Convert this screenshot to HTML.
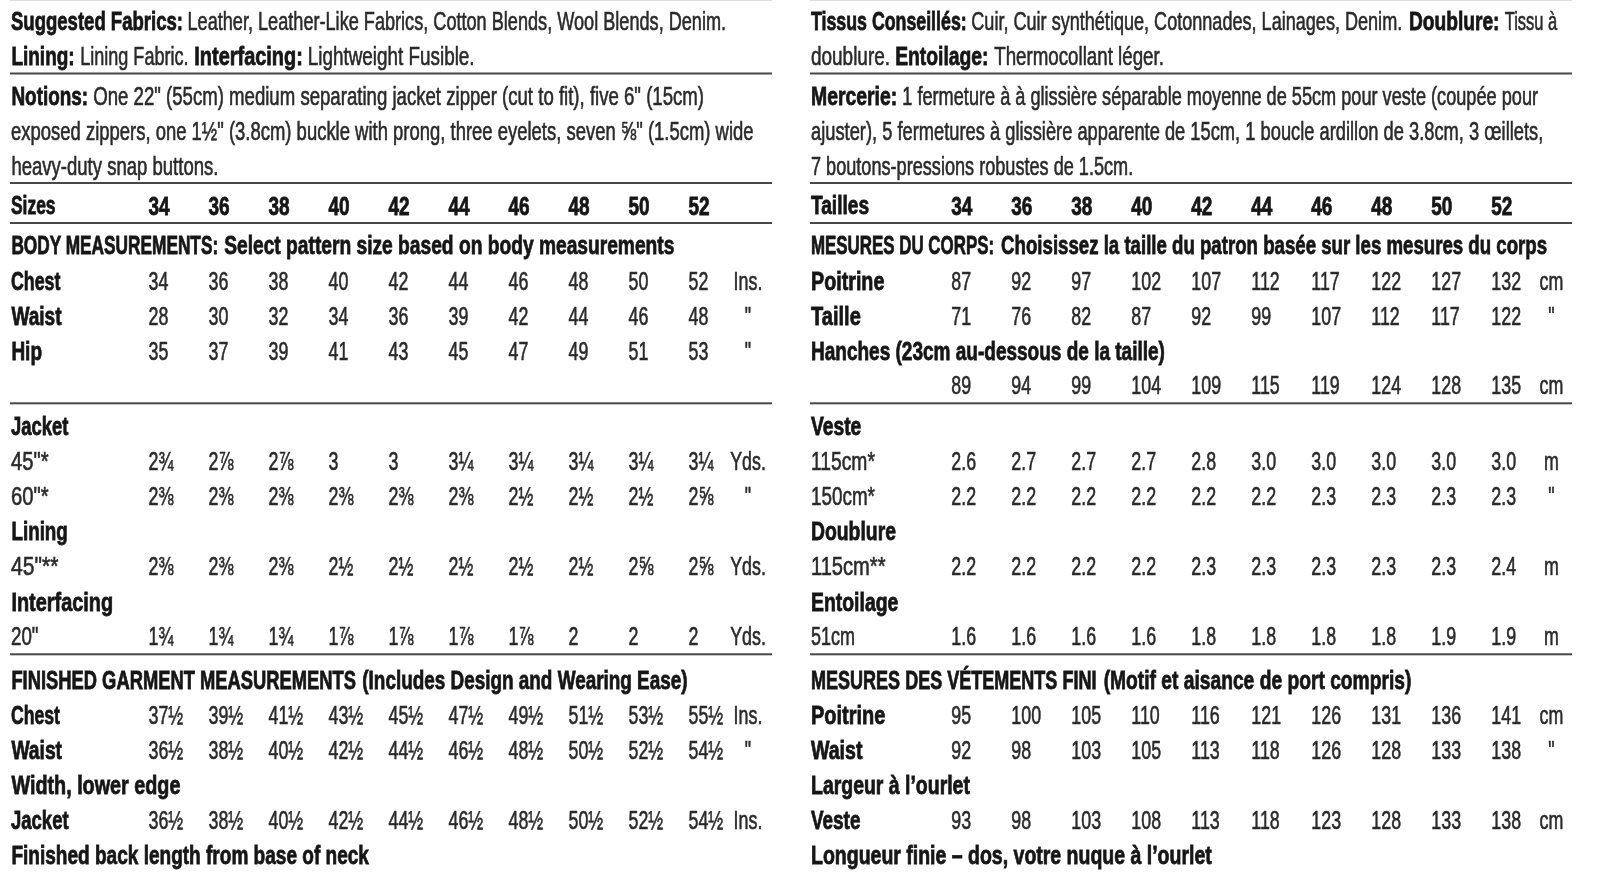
<!DOCTYPE html>
<html><head><meta charset="utf-8"><title>Pattern envelope measurements</title>
<style>
html,body{margin:0;padding:0;background:#fff;width:1606px;height:877px;overflow:hidden}
svg{display:block}
svg{filter:blur(0.35px)}
text{font-family:"Liberation Sans",sans-serif;font-size:25.5px;fill:#2a2a2a;stroke:#2a2a2a;stroke-width:0.6px;white-space:pre}
text.b{font-weight:700;stroke-width:0.8px;fill:#161616;stroke:#161616}
</style></head><body>
<svg width="1606" height="877" viewBox="0 0 1606 877">
<rect width="1606" height="877" fill="#fff"/>
<rect x="10" y="72.50" width="762" height="2" fill="#474747"/>
<rect x="810" y="72.50" width="762" height="2" fill="#474747"/>
<rect x="10" y="182.00" width="762" height="2" fill="#474747"/>
<rect x="810" y="182.00" width="762" height="2" fill="#474747"/>
<rect x="10" y="222.00" width="762" height="2" fill="#474747"/>
<rect x="810" y="222.00" width="762" height="2" fill="#474747"/>
<rect x="10" y="402.30" width="762" height="2" fill="#474747"/>
<rect x="810" y="402.30" width="762" height="2" fill="#474747"/>
<rect x="10" y="653.30" width="762" height="2" fill="#474747"/>
<rect x="810" y="653.30" width="762" height="2" fill="#474747"/>
<rect x="10" y="0" width="762" height="1" fill="#dcdcdc"/>
<rect x="810" y="0" width="762" height="1" fill="#dcdcdc"/>
<text class="b" transform="translate(11.00 30.00) scale(0.7270 1)">Suggested Fabrics:</text>
<text class="r" transform="translate(187.50 30.00) scale(0.7113 1)">Leather, Leather-Like Fabrics, Cotton Blends, Wool Blends, Denim.</text>
<text class="b" transform="translate(11.40 65.00) scale(0.7447 1)">Lining:</text>
<text class="r" transform="translate(80.20 65.00) scale(0.7080 1)">Lining Fabric.</text>
<text class="b" transform="translate(194.30 65.00) scale(0.7824 1)">Interfacing:</text>
<text class="r" transform="translate(307.80 65.00) scale(0.7405 1)">Lightweight Fusible.</text>
<text class="b" transform="translate(11.40 104.50) scale(0.7427 1)">Notions:</text>
<text class="r" transform="translate(93.20 104.50) scale(0.7299 1)">One 22" (55cm) medium separating jacket zipper (cut to fit), five 6" (15cm)</text>
<text class="r" transform="translate(11.00 139.50) scale(0.7243 1)">exposed zippers, one 1½" (3.8cm) buckle with prong, three eyelets, seven ⅝" (1.5cm) wide</text>
<text class="r" transform="translate(11.40 174.50) scale(0.7269 1)">heavy-duty snap buttons.</text>
<text class="b" transform="translate(11.00 214.00) scale(0.6840 1)">Sizes</text>
<text class="b" transform="translate(11.40 254.00) scale(0.6770 1)">BODY MEASUREMENTS:</text>
<text class="b" transform="translate(224.20 254.00) scale(0.7532 1)">Select pattern size based on body measurements</text>
<text class="b" transform="translate(11.00 289.50) scale(0.6963 1)">Chest</text>
<text class="b" transform="translate(11.40 324.50) scale(0.7481 1)">Waist</text>
<text class="b" transform="translate(11.40 359.50) scale(0.7445 1)">Hip</text>
<text class="b" transform="translate(11.00 434.80) scale(0.7229 1)">Jacket</text>
<text class="r" transform="translate(11.00 470.00) scale(0.7928 1)">45"*</text>
<text class="r" transform="translate(11.00 504.70) scale(0.7928 1)">60"*</text>
<text class="b" transform="translate(11.40 539.80) scale(0.7386 1)">Lining</text>
<text class="r" transform="translate(11.00 575.00) scale(0.8272 1)">45"**</text>
<text class="b" transform="translate(11.40 610.50) scale(0.7807 1)">Interfacing</text>
<text class="r" transform="translate(11.00 645.00) scale(0.7353 1)">20"</text>
<text class="b" transform="translate(11.40 689.00) scale(0.7199 1)">FINISHED GARMENT MEASUREMENTS</text>
<text class="b" transform="translate(362.30 689.00) scale(0.7416 1)">(Includes Design and Wearing Ease)</text>
<text class="b" transform="translate(11.00 724.00) scale(0.6921 1)">Chest</text>
<text class="b" transform="translate(11.40 759.00) scale(0.7556 1)">Waist</text>
<text class="b" transform="translate(11.40 794.00) scale(0.7760 1)">Width, lower edge</text>
<text class="b" transform="translate(11.00 829.00) scale(0.7254 1)">Jacket</text>
<text class="b" transform="translate(11.40 864.00) scale(0.7466 1)">Finished back length from base of neck</text>
<text class="b" transform="translate(811.00 30.00) scale(0.6970 1)">Tissus Conseillés:</text>
<text class="r" transform="translate(971.30 30.00) scale(0.7089 1)">Cuir, Cuir synthétique, Cotonnades, Lainages, Denim.</text>
<text class="b" transform="translate(1408.90 30.00) scale(0.7525 1)">Doublure:</text>
<text class="r" transform="translate(1504.70 30.00) scale(0.6470 1)">Tissu à</text>
<text class="r" transform="translate(811.00 64.50) scale(0.7432 1)">doublure.</text>
<text class="b" transform="translate(895.20 64.50) scale(0.7575 1)">Entoilage:</text>
<text class="r" transform="translate(994.20 64.50) scale(0.7351 1)">Thermocollant léger.</text>
<text class="b" transform="translate(811.00 104.50) scale(0.7601 1)">Mercerie:</text>
<text class="r" transform="translate(902.30 104.50) scale(0.7123 1)">1 fermeture à à glissière séparable moyenne de 55cm pour veste (coupée pour</text>
<text class="r" transform="translate(811.00 139.50) scale(0.7178 1)">ajuster), 5 fermetures à glissière apparente de 15cm, 1 boucle ardillon de 3.8cm, 3 œillets,</text>
<text class="r" transform="translate(811.00 174.50) scale(0.7108 1)">7 boutons-pressions robustes de 1.5cm.</text>
<text class="b" transform="translate(811.00 214.00) scale(0.7497 1)">Tailles</text>
<text class="b" transform="translate(811.00 254.00) scale(0.6630 1)">MESURES DU CORPS:</text>
<text class="b" transform="translate(1001.10 254.00) scale(0.7313 1)">Choisissez la taille du patron basée sur les mesures du corps</text>
<text class="b" transform="translate(811.00 289.50) scale(0.7734 1)">Poitrine</text>
<text class="b" transform="translate(811.00 324.50) scale(0.7867 1)">Taille</text>
<text class="b" transform="translate(811.00 359.50) scale(0.7458 1)">Hanches (23cm au-dessous de la taille)</text>
<text class="b" transform="translate(811.00 434.80) scale(0.7553 1)">Veste</text>
<text class="r" transform="translate(811.00 470.00) scale(0.7565 1)">115cm*</text>
<text class="r" transform="translate(811.00 504.70) scale(0.7399 1)">150cm*</text>
<text class="b" transform="translate(811.00 539.80) scale(0.7596 1)">Doublure</text>
<text class="r" transform="translate(811.00 575.00) scale(0.7884 1)">115cm**</text>
<text class="b" transform="translate(811.00 610.50) scale(0.7613 1)">Entoilage</text>
<text class="r" transform="translate(811.00 645.00) scale(0.7051 1)">51cm</text>
<text class="b" transform="translate(811.00 689.00) scale(0.7070 1)">MESURES DES VÉTEMENTS FINI</text>
<text class="b" transform="translate(1103.70 689.00) scale(0.7540 1)">(Motif et aisance de port compris)</text>
<text class="b" transform="translate(811.00 724.00) scale(0.7829 1)">Poitrine</text>
<text class="b" transform="translate(811.00 759.00) scale(0.7675 1)">Waist</text>
<text class="b" transform="translate(811.00 794.00) scale(0.7633 1)">Largeur à l’ourlet</text>
<text class="b" transform="translate(811.00 829.00) scale(0.7417 1)">Veste</text>
<text class="b" transform="translate(811.00 864.00) scale(0.7650 1)">Longueur finie – dos, votre nuque à l’ourlet</text>
<text class="b" transform="translate(148.50 214.70) scale(0.7450 1)">34</text>
<text class="b" transform="translate(208.50 214.70) scale(0.7450 1)">36</text>
<text class="b" transform="translate(268.50 214.70) scale(0.7450 1)">38</text>
<text class="b" transform="translate(328.50 214.70) scale(0.7450 1)">40</text>
<text class="b" transform="translate(388.50 214.70) scale(0.7450 1)">42</text>
<text class="b" transform="translate(448.50 214.70) scale(0.7450 1)">44</text>
<text class="b" transform="translate(508.50 214.70) scale(0.7450 1)">46</text>
<text class="b" transform="translate(568.50 214.70) scale(0.7450 1)">48</text>
<text class="b" transform="translate(628.50 214.70) scale(0.7450 1)">50</text>
<text class="b" transform="translate(688.50 214.70) scale(0.7450 1)">52</text>
<text class="r" transform="translate(148.50 289.50) scale(0.7000 1)">34</text>
<text class="r" transform="translate(208.50 289.50) scale(0.7000 1)">36</text>
<text class="r" transform="translate(268.50 289.50) scale(0.7000 1)">38</text>
<text class="r" transform="translate(328.50 289.50) scale(0.7000 1)">40</text>
<text class="r" transform="translate(388.50 289.50) scale(0.7000 1)">42</text>
<text class="r" transform="translate(448.50 289.50) scale(0.7000 1)">44</text>
<text class="r" transform="translate(508.50 289.50) scale(0.7000 1)">46</text>
<text class="r" transform="translate(568.50 289.50) scale(0.7000 1)">48</text>
<text class="r" transform="translate(628.50 289.50) scale(0.7000 1)">50</text>
<text class="r" transform="translate(688.50 289.50) scale(0.7000 1)">52</text>
<text class="r" transform="translate(733.62 289.50) scale(0.7000 1)">Ins.</text>
<text class="r" transform="translate(148.50 324.50) scale(0.7000 1)">28</text>
<text class="r" transform="translate(208.50 324.50) scale(0.7000 1)">30</text>
<text class="r" transform="translate(268.50 324.50) scale(0.7000 1)">32</text>
<text class="r" transform="translate(328.50 324.50) scale(0.7000 1)">34</text>
<text class="r" transform="translate(388.50 324.50) scale(0.7000 1)">36</text>
<text class="r" transform="translate(448.50 324.50) scale(0.7000 1)">39</text>
<text class="r" transform="translate(508.50 324.50) scale(0.7000 1)">42</text>
<text class="r" transform="translate(568.50 324.50) scale(0.7000 1)">44</text>
<text class="r" transform="translate(628.50 324.50) scale(0.7000 1)">46</text>
<text class="r" transform="translate(688.50 324.50) scale(0.7000 1)">48</text>
<text class="r" transform="translate(744.82 324.50) scale(0.7000 1)">"</text>
<text class="r" transform="translate(148.50 359.50) scale(0.7000 1)">35</text>
<text class="r" transform="translate(208.50 359.50) scale(0.7000 1)">37</text>
<text class="r" transform="translate(268.50 359.50) scale(0.7000 1)">39</text>
<text class="r" transform="translate(328.50 359.50) scale(0.7000 1)">41</text>
<text class="r" transform="translate(388.50 359.50) scale(0.7000 1)">43</text>
<text class="r" transform="translate(448.50 359.50) scale(0.7000 1)">45</text>
<text class="r" transform="translate(508.50 359.50) scale(0.7000 1)">47</text>
<text class="r" transform="translate(568.50 359.50) scale(0.7000 1)">49</text>
<text class="r" transform="translate(628.50 359.50) scale(0.7000 1)">51</text>
<text class="r" transform="translate(688.50 359.50) scale(0.7000 1)">53</text>
<text class="r" transform="translate(744.82 359.50) scale(0.7000 1)">"</text>
<text class="r" transform="translate(148.50 470.00) scale(0.7000 1)">2¾</text>
<text class="r" transform="translate(208.50 470.00) scale(0.7000 1)">2⅞</text>
<text class="r" transform="translate(268.50 470.00) scale(0.7000 1)">2⅞</text>
<text class="r" transform="translate(328.50 470.00) scale(0.7000 1)">3</text>
<text class="r" transform="translate(388.50 470.00) scale(0.7000 1)">3</text>
<text class="r" transform="translate(448.50 470.00) scale(0.7000 1)">3¼</text>
<text class="r" transform="translate(508.50 470.00) scale(0.7000 1)">3¼</text>
<text class="r" transform="translate(568.50 470.00) scale(0.7000 1)">3¼</text>
<text class="r" transform="translate(628.50 470.00) scale(0.7000 1)">3¼</text>
<text class="r" transform="translate(688.50 470.00) scale(0.7000 1)">3¼</text>
<text class="r" transform="translate(730.15 470.00) scale(0.7000 1)">Yds.</text>
<text class="r" transform="translate(148.50 504.70) scale(0.7000 1)">2⅜</text>
<text class="r" transform="translate(208.50 504.70) scale(0.7000 1)">2⅜</text>
<text class="r" transform="translate(268.50 504.70) scale(0.7000 1)">2⅜</text>
<text class="r" transform="translate(328.50 504.70) scale(0.7000 1)">2⅜</text>
<text class="r" transform="translate(388.50 504.70) scale(0.7000 1)">2⅜</text>
<text class="r" transform="translate(448.50 504.70) scale(0.7000 1)">2⅜</text>
<text class="r" transform="translate(508.50 504.70) scale(0.7000 1)">2½</text>
<text class="r" transform="translate(568.50 504.70) scale(0.7000 1)">2½</text>
<text class="r" transform="translate(628.50 504.70) scale(0.7000 1)">2½</text>
<text class="r" transform="translate(688.50 504.70) scale(0.7000 1)">2⅝</text>
<text class="r" transform="translate(744.82 504.70) scale(0.7000 1)">"</text>
<text class="r" transform="translate(148.50 575.00) scale(0.7000 1)">2⅜</text>
<text class="r" transform="translate(208.50 575.00) scale(0.7000 1)">2⅜</text>
<text class="r" transform="translate(268.50 575.00) scale(0.7000 1)">2⅜</text>
<text class="r" transform="translate(328.50 575.00) scale(0.7000 1)">2½</text>
<text class="r" transform="translate(388.50 575.00) scale(0.7000 1)">2½</text>
<text class="r" transform="translate(448.50 575.00) scale(0.7000 1)">2½</text>
<text class="r" transform="translate(508.50 575.00) scale(0.7000 1)">2½</text>
<text class="r" transform="translate(568.50 575.00) scale(0.7000 1)">2½</text>
<text class="r" transform="translate(628.50 575.00) scale(0.7000 1)">2⅝</text>
<text class="r" transform="translate(688.50 575.00) scale(0.7000 1)">2⅝</text>
<text class="r" transform="translate(730.15 575.00) scale(0.7000 1)">Yds.</text>
<text class="r" transform="translate(148.50 645.00) scale(0.7000 1)">1¾</text>
<text class="r" transform="translate(208.50 645.00) scale(0.7000 1)">1¾</text>
<text class="r" transform="translate(268.50 645.00) scale(0.7000 1)">1¾</text>
<text class="r" transform="translate(328.50 645.00) scale(0.7000 1)">1⅞</text>
<text class="r" transform="translate(388.50 645.00) scale(0.7000 1)">1⅞</text>
<text class="r" transform="translate(448.50 645.00) scale(0.7000 1)">1⅞</text>
<text class="r" transform="translate(508.50 645.00) scale(0.7000 1)">1⅞</text>
<text class="r" transform="translate(568.50 645.00) scale(0.7000 1)">2</text>
<text class="r" transform="translate(628.50 645.00) scale(0.7000 1)">2</text>
<text class="r" transform="translate(688.50 645.00) scale(0.7000 1)">2</text>
<text class="r" transform="translate(730.15 645.00) scale(0.7000 1)">Yds.</text>
<text class="r" transform="translate(148.50 724.00) scale(0.7000 1)">37½</text>
<text class="r" transform="translate(208.50 724.00) scale(0.7000 1)">39½</text>
<text class="r" transform="translate(268.50 724.00) scale(0.7000 1)">41½</text>
<text class="r" transform="translate(328.50 724.00) scale(0.7000 1)">43½</text>
<text class="r" transform="translate(388.50 724.00) scale(0.7000 1)">45½</text>
<text class="r" transform="translate(448.50 724.00) scale(0.7000 1)">47½</text>
<text class="r" transform="translate(508.50 724.00) scale(0.7000 1)">49½</text>
<text class="r" transform="translate(568.50 724.00) scale(0.7000 1)">51½</text>
<text class="r" transform="translate(628.50 724.00) scale(0.7000 1)">53½</text>
<text class="r" transform="translate(688.50 724.00) scale(0.7000 1)">55½</text>
<text class="r" transform="translate(733.62 724.00) scale(0.7000 1)">Ins.</text>
<text class="r" transform="translate(148.50 759.00) scale(0.7000 1)">36½</text>
<text class="r" transform="translate(208.50 759.00) scale(0.7000 1)">38½</text>
<text class="r" transform="translate(268.50 759.00) scale(0.7000 1)">40½</text>
<text class="r" transform="translate(328.50 759.00) scale(0.7000 1)">42½</text>
<text class="r" transform="translate(388.50 759.00) scale(0.7000 1)">44½</text>
<text class="r" transform="translate(448.50 759.00) scale(0.7000 1)">46½</text>
<text class="r" transform="translate(508.50 759.00) scale(0.7000 1)">48½</text>
<text class="r" transform="translate(568.50 759.00) scale(0.7000 1)">50½</text>
<text class="r" transform="translate(628.50 759.00) scale(0.7000 1)">52½</text>
<text class="r" transform="translate(688.50 759.00) scale(0.7000 1)">54½</text>
<text class="r" transform="translate(744.82 759.00) scale(0.7000 1)">"</text>
<text class="r" transform="translate(148.50 829.00) scale(0.7000 1)">36½</text>
<text class="r" transform="translate(208.50 829.00) scale(0.7000 1)">38½</text>
<text class="r" transform="translate(268.50 829.00) scale(0.7000 1)">40½</text>
<text class="r" transform="translate(328.50 829.00) scale(0.7000 1)">42½</text>
<text class="r" transform="translate(388.50 829.00) scale(0.7000 1)">44½</text>
<text class="r" transform="translate(448.50 829.00) scale(0.7000 1)">46½</text>
<text class="r" transform="translate(508.50 829.00) scale(0.7000 1)">48½</text>
<text class="r" transform="translate(568.50 829.00) scale(0.7000 1)">50½</text>
<text class="r" transform="translate(628.50 829.00) scale(0.7000 1)">52½</text>
<text class="r" transform="translate(688.50 829.00) scale(0.7000 1)">54½</text>
<text class="r" transform="translate(733.62 829.00) scale(0.7000 1)">Ins.</text>
<text class="b" transform="translate(951.30 214.70) scale(0.7450 1)">34</text>
<text class="b" transform="translate(1011.30 214.70) scale(0.7450 1)">36</text>
<text class="b" transform="translate(1071.30 214.70) scale(0.7450 1)">38</text>
<text class="b" transform="translate(1131.30 214.70) scale(0.7450 1)">40</text>
<text class="b" transform="translate(1191.30 214.70) scale(0.7450 1)">42</text>
<text class="b" transform="translate(1251.30 214.70) scale(0.7450 1)">44</text>
<text class="b" transform="translate(1311.30 214.70) scale(0.7450 1)">46</text>
<text class="b" transform="translate(1371.30 214.70) scale(0.7450 1)">48</text>
<text class="b" transform="translate(1431.30 214.70) scale(0.7450 1)">50</text>
<text class="b" transform="translate(1491.30 214.70) scale(0.7450 1)">52</text>
<text class="r" transform="translate(951.30 289.50) scale(0.7000 1)">87</text>
<text class="r" transform="translate(1011.30 289.50) scale(0.7000 1)">92</text>
<text class="r" transform="translate(1071.30 289.50) scale(0.7000 1)">97</text>
<text class="r" transform="translate(1131.30 289.50) scale(0.7000 1)">102</text>
<text class="r" transform="translate(1191.30 289.50) scale(0.7000 1)">107</text>
<text class="r" transform="translate(1251.30 289.50) scale(0.7000 1)">112</text>
<text class="r" transform="translate(1311.30 289.50) scale(0.7000 1)">117</text>
<text class="r" transform="translate(1371.30 289.50) scale(0.7000 1)">122</text>
<text class="r" transform="translate(1431.30 289.50) scale(0.7000 1)">127</text>
<text class="r" transform="translate(1491.30 289.50) scale(0.7000 1)">132</text>
<text class="r" transform="translate(1539.60 289.50) scale(0.7000 1)">cm</text>
<text class="r" transform="translate(951.30 324.50) scale(0.7000 1)">71</text>
<text class="r" transform="translate(1011.30 324.50) scale(0.7000 1)">76</text>
<text class="r" transform="translate(1071.30 324.50) scale(0.7000 1)">82</text>
<text class="r" transform="translate(1131.30 324.50) scale(0.7000 1)">87</text>
<text class="r" transform="translate(1191.30 324.50) scale(0.7000 1)">92</text>
<text class="r" transform="translate(1251.30 324.50) scale(0.7000 1)">99</text>
<text class="r" transform="translate(1311.30 324.50) scale(0.7000 1)">107</text>
<text class="r" transform="translate(1371.30 324.50) scale(0.7000 1)">112</text>
<text class="r" transform="translate(1431.30 324.50) scale(0.7000 1)">117</text>
<text class="r" transform="translate(1491.30 324.50) scale(0.7000 1)">122</text>
<text class="r" transform="translate(1548.32 324.50) scale(0.7000 1)">"</text>
<text class="r" transform="translate(951.30 394.10) scale(0.7000 1)">89</text>
<text class="r" transform="translate(1011.30 394.10) scale(0.7000 1)">94</text>
<text class="r" transform="translate(1071.30 394.10) scale(0.7000 1)">99</text>
<text class="r" transform="translate(1131.30 394.10) scale(0.7000 1)">104</text>
<text class="r" transform="translate(1191.30 394.10) scale(0.7000 1)">109</text>
<text class="r" transform="translate(1251.30 394.10) scale(0.7000 1)">115</text>
<text class="r" transform="translate(1311.30 394.10) scale(0.7000 1)">119</text>
<text class="r" transform="translate(1371.30 394.10) scale(0.7000 1)">124</text>
<text class="r" transform="translate(1431.30 394.10) scale(0.7000 1)">128</text>
<text class="r" transform="translate(1491.30 394.10) scale(0.7000 1)">135</text>
<text class="r" transform="translate(1539.60 394.10) scale(0.7000 1)">cm</text>
<text class="r" transform="translate(951.30 470.00) scale(0.7000 1)">2.6</text>
<text class="r" transform="translate(1011.30 470.00) scale(0.7000 1)">2.7</text>
<text class="r" transform="translate(1071.30 470.00) scale(0.7000 1)">2.7</text>
<text class="r" transform="translate(1131.30 470.00) scale(0.7000 1)">2.7</text>
<text class="r" transform="translate(1191.30 470.00) scale(0.7000 1)">2.8</text>
<text class="r" transform="translate(1251.30 470.00) scale(0.7000 1)">3.0</text>
<text class="r" transform="translate(1311.30 470.00) scale(0.7000 1)">3.0</text>
<text class="r" transform="translate(1371.30 470.00) scale(0.7000 1)">3.0</text>
<text class="r" transform="translate(1431.30 470.00) scale(0.7000 1)">3.0</text>
<text class="r" transform="translate(1491.30 470.00) scale(0.7000 1)">3.0</text>
<text class="r" transform="translate(1544.08 470.00) scale(0.7000 1)">m</text>
<text class="r" transform="translate(951.30 504.70) scale(0.7000 1)">2.2</text>
<text class="r" transform="translate(1011.30 504.70) scale(0.7000 1)">2.2</text>
<text class="r" transform="translate(1071.30 504.70) scale(0.7000 1)">2.2</text>
<text class="r" transform="translate(1131.30 504.70) scale(0.7000 1)">2.2</text>
<text class="r" transform="translate(1191.30 504.70) scale(0.7000 1)">2.2</text>
<text class="r" transform="translate(1251.30 504.70) scale(0.7000 1)">2.2</text>
<text class="r" transform="translate(1311.30 504.70) scale(0.7000 1)">2.3</text>
<text class="r" transform="translate(1371.30 504.70) scale(0.7000 1)">2.3</text>
<text class="r" transform="translate(1431.30 504.70) scale(0.7000 1)">2.3</text>
<text class="r" transform="translate(1491.30 504.70) scale(0.7000 1)">2.3</text>
<text class="r" transform="translate(1548.32 504.70) scale(0.7000 1)">"</text>
<text class="r" transform="translate(951.30 575.00) scale(0.7000 1)">2.2</text>
<text class="r" transform="translate(1011.30 575.00) scale(0.7000 1)">2.2</text>
<text class="r" transform="translate(1071.30 575.00) scale(0.7000 1)">2.2</text>
<text class="r" transform="translate(1131.30 575.00) scale(0.7000 1)">2.2</text>
<text class="r" transform="translate(1191.30 575.00) scale(0.7000 1)">2.3</text>
<text class="r" transform="translate(1251.30 575.00) scale(0.7000 1)">2.3</text>
<text class="r" transform="translate(1311.30 575.00) scale(0.7000 1)">2.3</text>
<text class="r" transform="translate(1371.30 575.00) scale(0.7000 1)">2.3</text>
<text class="r" transform="translate(1431.30 575.00) scale(0.7000 1)">2.3</text>
<text class="r" transform="translate(1491.30 575.00) scale(0.7000 1)">2.4</text>
<text class="r" transform="translate(1544.08 575.00) scale(0.7000 1)">m</text>
<text class="r" transform="translate(951.30 645.00) scale(0.7000 1)">1.6</text>
<text class="r" transform="translate(1011.30 645.00) scale(0.7000 1)">1.6</text>
<text class="r" transform="translate(1071.30 645.00) scale(0.7000 1)">1.6</text>
<text class="r" transform="translate(1131.30 645.00) scale(0.7000 1)">1.6</text>
<text class="r" transform="translate(1191.30 645.00) scale(0.7000 1)">1.8</text>
<text class="r" transform="translate(1251.30 645.00) scale(0.7000 1)">1.8</text>
<text class="r" transform="translate(1311.30 645.00) scale(0.7000 1)">1.8</text>
<text class="r" transform="translate(1371.30 645.00) scale(0.7000 1)">1.8</text>
<text class="r" transform="translate(1431.30 645.00) scale(0.7000 1)">1.9</text>
<text class="r" transform="translate(1491.30 645.00) scale(0.7000 1)">1.9</text>
<text class="r" transform="translate(1544.08 645.00) scale(0.7000 1)">m</text>
<text class="r" transform="translate(951.30 724.00) scale(0.7000 1)">95</text>
<text class="r" transform="translate(1011.30 724.00) scale(0.7000 1)">100</text>
<text class="r" transform="translate(1071.30 724.00) scale(0.7000 1)">105</text>
<text class="r" transform="translate(1131.30 724.00) scale(0.7000 1)">110</text>
<text class="r" transform="translate(1191.30 724.00) scale(0.7000 1)">116</text>
<text class="r" transform="translate(1251.30 724.00) scale(0.7000 1)">121</text>
<text class="r" transform="translate(1311.30 724.00) scale(0.7000 1)">126</text>
<text class="r" transform="translate(1371.30 724.00) scale(0.7000 1)">131</text>
<text class="r" transform="translate(1431.30 724.00) scale(0.7000 1)">136</text>
<text class="r" transform="translate(1491.30 724.00) scale(0.7000 1)">141</text>
<text class="r" transform="translate(1539.60 724.00) scale(0.7000 1)">cm</text>
<text class="r" transform="translate(951.30 759.00) scale(0.7000 1)">92</text>
<text class="r" transform="translate(1011.30 759.00) scale(0.7000 1)">98</text>
<text class="r" transform="translate(1071.30 759.00) scale(0.7000 1)">103</text>
<text class="r" transform="translate(1131.30 759.00) scale(0.7000 1)">105</text>
<text class="r" transform="translate(1191.30 759.00) scale(0.7000 1)">113</text>
<text class="r" transform="translate(1251.30 759.00) scale(0.7000 1)">118</text>
<text class="r" transform="translate(1311.30 759.00) scale(0.7000 1)">126</text>
<text class="r" transform="translate(1371.30 759.00) scale(0.7000 1)">128</text>
<text class="r" transform="translate(1431.30 759.00) scale(0.7000 1)">133</text>
<text class="r" transform="translate(1491.30 759.00) scale(0.7000 1)">138</text>
<text class="r" transform="translate(1548.32 759.00) scale(0.7000 1)">"</text>
<text class="r" transform="translate(951.30 829.00) scale(0.7000 1)">93</text>
<text class="r" transform="translate(1011.30 829.00) scale(0.7000 1)">98</text>
<text class="r" transform="translate(1071.30 829.00) scale(0.7000 1)">103</text>
<text class="r" transform="translate(1131.30 829.00) scale(0.7000 1)">108</text>
<text class="r" transform="translate(1191.30 829.00) scale(0.7000 1)">113</text>
<text class="r" transform="translate(1251.30 829.00) scale(0.7000 1)">118</text>
<text class="r" transform="translate(1311.30 829.00) scale(0.7000 1)">123</text>
<text class="r" transform="translate(1371.30 829.00) scale(0.7000 1)">128</text>
<text class="r" transform="translate(1431.30 829.00) scale(0.7000 1)">133</text>
<text class="r" transform="translate(1491.30 829.00) scale(0.7000 1)">138</text>
<text class="r" transform="translate(1539.60 829.00) scale(0.7000 1)">cm</text>
</svg>
</body></html>
